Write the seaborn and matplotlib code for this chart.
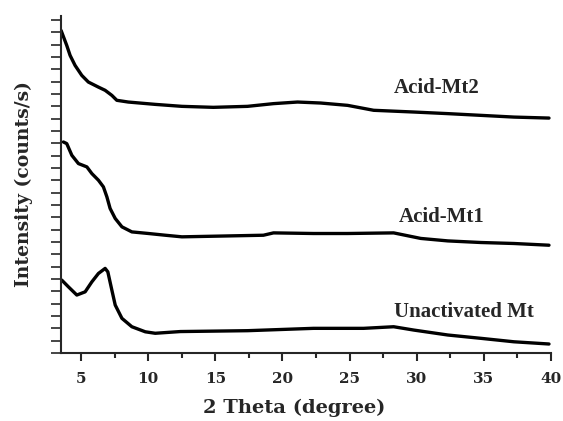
import numpy as np
import pandas as pd
import seaborn as sns
import matplotlib.pyplot as plt
from matplotlib.ticker import MultipleLocator

# Valores (2 theta en grados, intensidad en unidades arbitrarias)
theta_mt2 = [3.51, 3.93, 4.18, 4.55, 5.05, 5.54, 6.29, 6.79, 7.29, 7.66, 8.51, 10.52, 12.51,
             14.85, 17.39, 19.33, 21.12, 22.84, 24.85, 26.79, 29.78, 32.31, 34.78, 37.24, 39.85]
int_mt2 = [26.15, 24.94, 24.13, 23.32, 22.51, 21.97, 21.56, 21.30, 20.89, 20.49, 20.35, 20.16, 20.00,
           19.92, 20.00, 20.22, 20.35, 20.27, 20.08, 19.68, 19.54, 19.41, 19.27, 19.13, 19.05]

theta_mt1 = [3.68, 3.93, 4.31, 4.80, 5.43, 5.80, 6.29, 6.66, 6.92, 7.16, 7.54, 8.04, 8.78, 10.02,
             11.27, 12.51, 14.85, 18.58, 19.33, 22.31, 24.85, 28.28, 30.30, 32.31, 34.78, 37.24, 39.85]
int_mt1 = [17.11, 16.98, 16.03, 15.36, 15.09, 14.55, 14.01, 13.47, 12.66, 11.72, 10.91, 10.23, 9.82, 9.69,
           9.55, 9.42, 9.47, 9.55, 9.74, 9.69, 9.69, 9.74, 9.29, 9.09, 8.96, 8.88, 8.74]

theta_mt0 = [3.56, 4.05, 4.68, 5.30, 5.80, 6.29, 6.79, 6.99, 7.29, 7.54, 8.04, 8.78, 9.78, 10.52,
             12.39, 17.39, 22.31, 26.04, 28.28, 29.78, 32.31, 34.78, 37.24, 39.85]
int_mt0 = [5.91, 5.37, 4.70, 4.96, 5.77, 6.45, 6.86, 6.58, 5.10, 3.89, 2.81, 2.13, 1.72, 1.60,
           1.74, 1.81, 2.00, 2.00, 2.13, 1.86, 1.46, 1.19, 0.91, 0.73]

names = ['Acid-Mt2', 'Acid-Mt1', 'Unactivated Mt']

# Tabla larga para seaborn
df = pd.concat([
    pd.DataFrame({'theta': theta_mt2, 'intensity': int_mt2, 'muestra': names[0]}),
    pd.DataFrame({'theta': theta_mt1, 'intensity': int_mt1, 'muestra': names[1]}),
    pd.DataFrame({'theta': theta_mt0, 'intensity': int_mt0, 'muestra': names[2]}),
])

sns.set_style('ticks')
fig = plt.figure(figsize=(5.63, 4.21), dpi=100)
ax = fig.add_axes([0.1083, 0.1615, 0.8704, 0.8012])

sns.lineplot(data=df, x='theta', y='intensity', hue='muestra',
             palette=['black'] * 3, linewidth=2.4, legend=False, ax=ax)

ax.set_xlim(3.5, 40)
ax.set_ylim(0, 27.35)
ax.set_xticks(range(5, 41, 5))
ax.xaxis.set_minor_locator(MultipleLocator(2.5))
ax.set_yticks(range(0, 28))
ax.set_yticklabels([])

for s in ['top', 'right']:
    ax.spines[s].set_visible(False)
for s in ['left', 'bottom']:
    ax.spines[s].set_linewidth(1.5)

ax.tick_params(axis='x', which='major', length=6, width=1.5, pad=8)
ax.tick_params(axis='x', which='minor', length=3.5, width=1.5)
ax.tick_params(axis='y', length=7, width=1.2)

serif = ['DejaVu Serif']
for lab in ax.get_xticklabels():
    lab.set_fontfamily(serif)
    lab.set_fontweight('bold')
    lab.set_fontsize(11)

ax.set_xlabel('2 Theta (degree)', fontsize=14, fontweight='bold', family=serif, labelpad=9, x=0.476)
ax.set_ylabel('Intensity (counts/s)', fontsize=13.5, fontweight='bold', family=serif, labelpad=10)

# Etiquetas de cada curva
ann_x = [28.28, 28.66, 28.28]
ann_y = [21.46, 11.01, 3.32]
for name, x, y in zip(names, ann_x, ann_y):
    ax.text(x, y, name, fontsize=15, fontweight='bold', family=['Liberation Serif'],
            ha='left', va='center')

fig.savefig('out.png', dpi=100)
